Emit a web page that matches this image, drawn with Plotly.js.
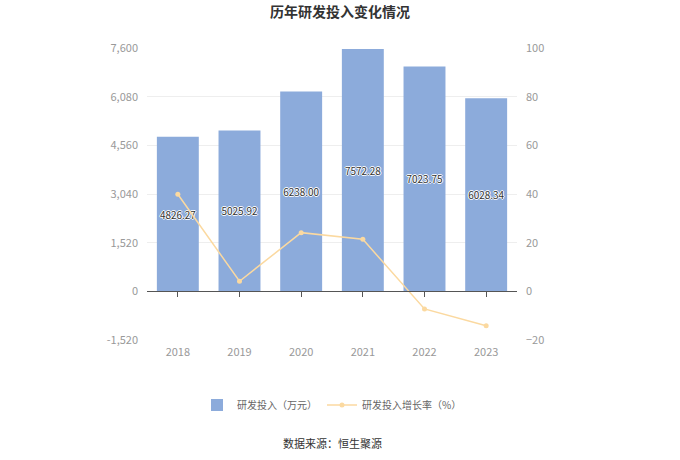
<!DOCTYPE html>
<html><head><meta charset="utf-8">
<script src="https://cdn.plot.ly/plotly-3.0.1.min.js"></script>
<style>html,body{margin:0;padding:0;background:#fff;}#chart{width:680px;height:460px;}</style>
</head><body><div id="chart"></div>
<script>
const years = ['2018','2019','2020','2021','2022','2023'];
const rdInvest = [4826.27, 5025.92, 6238.00, 7572.28, 7023.75, 6028.34];
const rdGrowth = [39.9, 4.14, 24.12, 21.39, -7.24, -14.17];
const leftTicks = [-1520, 0, 1520, 3040, 4560, 6080, 7600];
const rightTicks = [-20, 0, 20, 40, 60, 80, 100];

const font = "'Noto Sans CJK SC', 'Noto Sans', sans-serif";
const T = 48, B = 120, H = 460;
const zeroFrac = (0 - leftTicks[0]) / (leftTicks[leftTicks.length-1] - leftTicks[0]);
const catRange = [-0.5, years.length - 0.5];

const traces = [
  {
    type: 'bar', name: '研发投入（万元）', x: years, y: rdInvest,
    marker: {color: '#8cabdb'},
    text: rdInvest.map(v => v.toFixed(2)), textposition: 'inside', insidetextanchor: 'middle',
    textangle: 0,
    textfont: {family: font, size: 11, color: '#333', shadow: '1px 0 0 #fff, -1px 0 0 #fff, 0 1px 0 #fff, 0 -1px 0 #fff'},
    hoverinfo: 'x+y', xaxis: 'x', yaxis: 'y'
  },
  {
    type: 'scatter', mode: 'lines+markers', name: '研发投入增长率（%）', x: years, y: rdGrowth,
    line: {color: '#fbd9a0', width: 1.5},
    marker: {color: '#fbd9a0', size: 5, symbol: 'circle'},
    xaxis: 'x2', yaxis: 'y2'
  }
];

const layout = {
  width: 680, height: 460,
  margin: {l: 147, r: 163, t: T, b: B},
  paper_bgcolor: '#fff', plot_bgcolor: '#fff',
  font: {family: font, color: '#999', size: 11},
  title: {text: '历年研发投入变化情况', x: 0.5, xanchor: 'center', y: 1 - 12/H, yanchor: 'middle',
    font: {family: font, size: 14, color: '#333', weight: 'bold'}},
  bargap: 0.32,
  showlegend: true,
  legend: {orientation: 'h', x: 0.5, xanchor: 'center', y: (H - B - 405) / (H - T - B), yanchor: 'middle',
    font: {family: font, size: 10, color: '#666'}, itemwidth: 30, traceorder: 'normal'},
  xaxis: {type: 'category', range: catRange, showline: false, ticks: '', showgrid: false, zeroline: false,
    tickfont: {family: font, size: 11, color: '#999'}, anchor: 'y', ticklabelstandoff: 4},
  xaxis2: {type: 'category', range: catRange, overlaying: 'x', anchor: 'free', position: zeroFrac,
    showticklabels: false, showline: true, linecolor: '#555', linewidth: 1,
    ticks: 'outside', ticklen: 5, tickcolor: '#555', showgrid: false, zeroline: false,
    tickmode: 'array', tickvals: years},
  yaxis: {range: [leftTicks[0], leftTicks[leftTicks.length-1]], tickvals: leftTicks,
    ticktext: leftTicks.map(v => v.toLocaleString('en-US')),
    showgrid: true, gridcolor: '#eeeeee', zeroline: false, showline: false, ticks: '',
    tickfont: {family: font, size: 11, color: '#999'}, ticklabelstandoff: 8},
  yaxis2: {range: [rightTicks[0], rightTicks[rightTicks.length-1]], tickvals: rightTicks,
    overlaying: 'y', side: 'right', anchor: 'x', showgrid: false, zeroline: false, showline: false,
    tickfont: {family: font, size: 11, color: '#999'}, ticklabelstandoff: 8},
  annotations: [{text: '数据来源：恒生聚源', xref: 'paper', yref: 'paper', x: 0.5, xanchor: 'center',
    y: (H - B - 443) / (H - T - B), yanchor: 'middle', showarrow: false,
    font: {family: font, size: 11, color: '#333'}}]
};

Plotly.newPlot('chart', traces, layout, {displayModeBar: false, staticPlot: true});
</script></body></html>
